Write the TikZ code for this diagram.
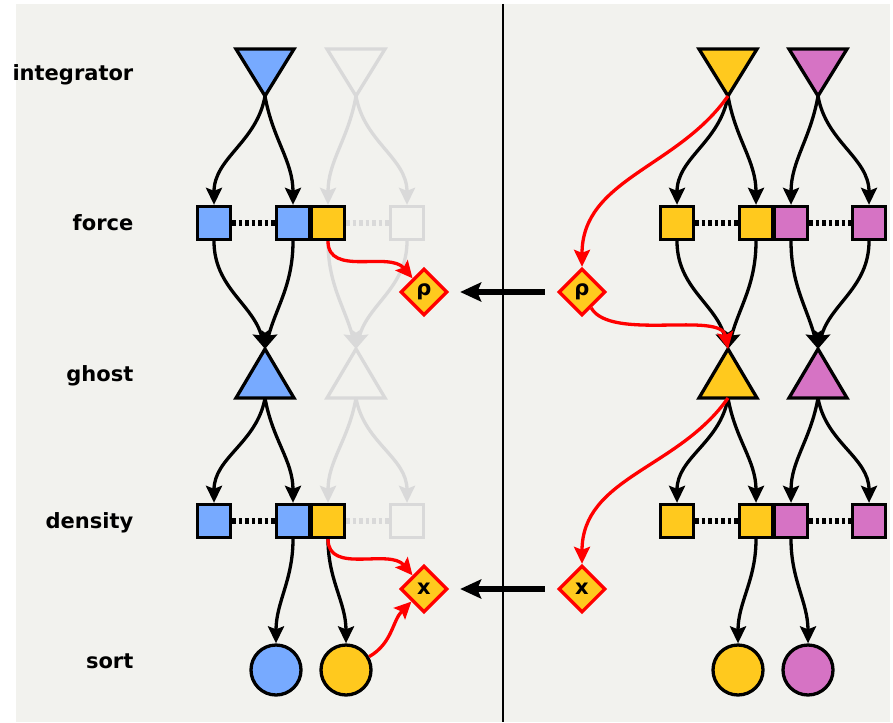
\documentclass[tikz,border=0pt]{standalone}
\usepackage{fontspec}
\setmainfont{DejaVu Sans}
\usetikzlibrary{arrows.meta,positioning,shapes.geometric}
\definecolor{bgc}{HTML}{F2F2EE}
\definecolor{blu}{HTML}{77AAFF}
\definecolor{yel}{HTML}{FFC91E}
\definecolor{pnk}{HTML}{D673C4}
\definecolor{gry}{HTML}{D9D9D9}

\tikzset{
  sq/.style={draw,line width=3.3pt,minimum size=33pt,inner sep=0pt},
  ball/.style={circle,draw,line width=3.3pt,minimum size=50pt,inner sep=0pt},
  gem/.style={diamond,draw=red,fill=yel,line width=3.3pt,minimum size=47pt,
    inner sep=0pt,font=\bfseries\fontsize{21}{23}\selectfont},
  lbl/.style={anchor=base east,inner sep=0pt,font=\bfseries\fontsize{21}{24}\selectfont},
  tri/.style={line width=3.3pt,line join=miter},
  flow/.style={-{Stealth[length=17pt,width=16pt,inset=3pt]}},
  dots/.style={line width=5.5pt,dash pattern=on 3.5pt off 3pt},
  push/.style={line width=6.5pt,-{Stealth[length=21pt,width=19pt,inset=4pt]},
    shorten <=12pt,shorten >=11pt}
}

\begin{document}
\begin{tikzpicture}[x=1pt,y=-1pt,line width=3.3pt,on grid]
    \useasboundingbox (0,0) rectangle (893,722);
    \fill[bgc] (16,4) rectangle (890,722);
    \draw[line width=1.3pt] (503,4) -- (503,722);

    % row labels
    \node[lbl] (l_int) at (135,81)  {integrator};
    \node[lbl] (l_frc) at (135,230) {force};
    \node[lbl] (l_gst) at (135,381) {ghost};
    \node[lbl] (l_den) at (135,528) {density};
    \node[lbl] (l_srt) at (135,668) {sort};

    % triangle tips
    \coordinate (ib)  at (265,96);
    \coordinate (ig)  at (356,96);
    \coordinate (iy)  at (728,96);
    \coordinate (ip)  at (818,96);
    \coordinate (gbt) at (265,349);
    \coordinate (gbb) at (265,398);
    \coordinate (ggt) at (356,349);
    \coordinate (ggb) at (356,398);
    \coordinate (gyt) at (728,349);
    \coordinate (gyb) at (728,398);
    \coordinate (gpt) at (818,349);
    \coordinate (gpb) at (818,398);

    \draw[tri,fill=blu]  (ib) -- ++(-29,-47) -- ++(58,0) -- cycle;
    \draw[tri,draw=gry]  (ig) -- ++(-29,-47) -- ++(58,0) -- cycle;
    \draw[tri,fill=yel]  (iy) -- ++(-29,-47) -- ++(58,0) -- cycle;
    \draw[tri,fill=pnk]  (ip) -- ++(-29,-47) -- ++(58,0) -- cycle;
    \draw[tri,fill=blu]  (gbt) -- ++(-29,49) -- ++(58,0) -- cycle;
    \draw[tri,draw=gry]  (ggt) -- ++(-29,49) -- ++(58,0) -- cycle;
    \draw[tri,fill=yel]  (gyt) -- ++(-29,49) -- ++(58,0) -- cycle;
    \draw[tri,fill=pnk]  (gpt) -- ++(-29,49) -- ++(58,0) -- cycle;

    % force row
    \node[sq,fill=blu]  (fb1) at (214,223) {};
    \node[sq,fill=blu]  (fb2) at (293,223) {};
    \node[sq,fill=yel]  (fy)  [right=35pt of fb2] {};
    \node[sq,draw=gry]  (fg)  at (407,223) {};
    \node[sq,fill=yel]  (fy1) at (677,223) {};
    \node[sq,fill=yel]  (fy2) at (756,223) {};
    \node[sq,fill=pnk]  (fp1) [right=35pt of fy2] {};
    \node[sq,fill=pnk]  (fp2) at (869,223) {};

    % density row
    \node[sq,fill=blu]  (db1) at (214,521) {};
    \node[sq,fill=blu]  (db2) at (293,521) {};
    \node[sq,fill=yel]  (dy)  [right=35pt of db2] {};
    \node[sq,draw=gry]  (dg)  at (407,521) {};
    \node[sq,fill=yel]  (dy1) at (677,521) {};
    \node[sq,fill=yel]  (dy2) at (756,521) {};
    \node[sq,fill=pnk]  (dp1) [right=35pt of dy2] {};
    \node[sq,fill=pnk]  (dp2) at (869,521) {};

    % sort row
    \node[ball,fill=blu] (sb)  at (276,670) {};
    \node[ball,fill=yel] (sy)  at (346,670) {};
    \node[ball,fill=yel] (sy2) at (738,670) {};
    \node[ball,fill=pnk] (sp)  at (808,670) {};

    \draw[dots] (fb1) -- (fb2);
    \draw[dots,gry] (fy) -- (fg);
    \draw[dots] (fy1) -- (fy2);
    \draw[dots] (fp1) -- (fp2);
    \draw[dots] (db1) -- (db2);
    \draw[dots,gry] (dy) -- (dg);
    \draw[dots] (dy1) -- (dy2);
    \draw[dots] (dp1) -- (dp2);

    \path[flow,gry]
    (ig)  edge [out=-100,in=90] (fy)
          edge [out=-80,in=90]  (fg)
    (fy)  edge [out=-90,in=105] (ggt)
    (fg)  edge [out=-90,in=75]  (ggt)
    (ggb) edge [out=-100,in=90] (dy)
          edge [out=-80,in=90]  (dg);

    \path[flow]
    (ib)  edge [out=-100,in=90] (fb1)
          edge [out=-80,in=90]  (fb2)
    (fb1) edge [out=-90,in=105] (gbt)
    (fb2) edge [out=-90,in=75]  (gbt)
    (gbb) edge [out=-100,in=90] (db1)
          edge [out=-80,in=90]  (db2)
    (db2) edge [out=-90,in=90]  (sb)
    (dy)  edge [out=-90,in=90]  (sy)
    (iy)  edge [out=-100,in=90] (fy1)
          edge [out=-80,in=90]  (fy2)
    (ip)  edge [out=-100,in=90] (fp1)
          edge [out=-80,in=90]  (fp2)
    (fy1) edge [out=-90,in=105] (gyt)
    (fy2) edge [out=-90,in=75]  (gyt)
    (fp1) edge [out=-90,in=105] (gpt)
    (fp2) edge [out=-90,in=75]  (gpt)
    (gyb) edge [out=-100,in=90] (dy1)
          edge [out=-80,in=90]  (dy2)
    (gpb) edge [out=-100,in=90] (dp1)
          edge [out=-80,in=90]  (dp2)
    (dy2) edge [out=-90,in=90]  (sy2)
    (dp1) edge [out=-90,in=90]  (sp);

    % exchanged quantities
    \node[gem] (rl) at (424,292) {ρ};
    \node[gem] (rr) at (582,292) {ρ};
    \node[gem] (xl) at (424,589) {x};
    \node[gem] (xr) at (582,589) {x};

    \path[flow,red]
    (fy)  edge [out=-90,in=130]  (rl)
    (dy)  edge [out=-90,in=130]  (xl)
    (sy)  edge [out=30,in=-135]  (xl)
    (iy)  edge [out=-125,in=90]  (rr)
    (rr)  edge [out=-60,in=100,looseness=0.7] (gyt)
    (gyb) edge [out=-125,in=90]  (xr);

    \draw[push] (rr) -- (rl);
    \draw[push] (xr) -- (xl);
\end{tikzpicture}
\end{document}
